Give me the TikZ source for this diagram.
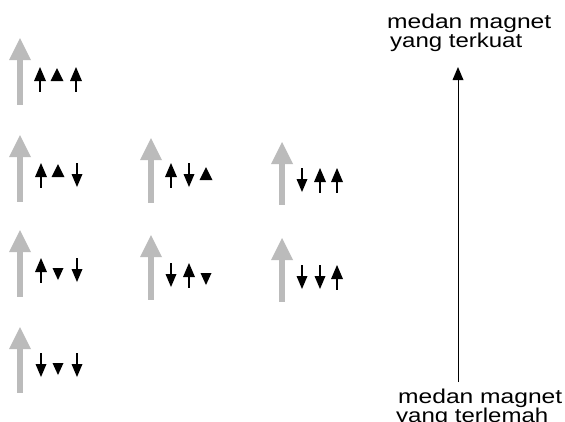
\documentclass[tikz,border=0pt]{standalone}
\usepackage{graphicx}
\usepackage{fontspec}
\setmainfont{Liberation Sans}
\definecolor{biggray}{HTML}{BBBBBB}
\tikzset{
  lbl/.style={anchor=base west, inner sep=0pt, font=\fontsize{20}{20}\selectfont},
  bigarrow/.pic={
    % origin at tip, length given by \arrowlen
    \fill[biggray] (-2.7,22) rectangle (2.7,\arrowlen);
    \fill[biggray] (0,0) -- (11,22) -- (-11,22) -- cycle;
  },
  upA/.pic={
    \fill[black] (0,0) -- (6,14) -- (-6,14) -- cycle;
    \fill[black] (-0.8,13) rectangle (0.8,25);
  },
  dnA/.pic={
    \fill[black] (-0.8,0) rectangle (0.8,12);
    \fill[black] (-5.5,11) -- (5.5,11) -- (0,24) -- cycle;
  },
  upT/.pic={
    \fill[black] (0,1) -- (6.5,14) -- (-6.5,14) -- cycle;
  },
  dnT/.pic={
    \fill[black] (-5.5,10) -- (5.5,10) -- (0,22) -- cycle;
  },
}
\newcommand{\arrowlen}{67}
\newcommand{\BigArr}[3]{% x, top, bottom
  \fill[biggray] (#1-2.7,#2+20) rectangle (#1+2.7,#3);
  \fill[biggray] (#1,#2) -- (#1+11,#2+22) -- (#1-11,#2+22) -- cycle;
}
\begin{document}
\begin{tikzpicture}[x=1pt,y=-1pt]
\useasboundingbox (0,0) rectangle (565,421);
\fill[white] (0,0) rectangle (565,421);

% big gray arrows
\BigArr{20}{38}{105}
\BigArr{20}{135}{202}
\BigArr{151}{138}{203}
\BigArr{282}{142}{205}
\BigArr{20}{230}{297}
\BigArr{151}{235}{300}
\BigArr{282}{238}{302}
\BigArr{20}{327}{393}

% row 1
\pic at (40,67) {upA}; \pic at (57,67) {upT}; \pic at (76,67) {upA};
% row 2
\pic at (41,163) {upA}; \pic at (58,163) {upT}; \pic at (77,163) {dnA};
\pic at (171,163) {upA}; \pic at (189,163) {dnA}; \pic at (206,166) {upT};
\pic at (302,168) {dnA}; \pic at (320,168) {upA}; \pic at (337,168) {upA};
% row 3
\pic at (41,258) {upA}; \pic at (58,258) {dnT}; \pic at (77,258) {dnA};
\pic at (171,263) {dnA}; \pic at (189,263) {upA}; \pic at (206,263) {dnT};
\pic at (302,265) {dnA}; \pic at (320,265) {dnA}; \pic at (337,265) {upA};
% row 4
\pic at (41,353) {dnA}; \pic at (58,353) {dnT}; \pic at (77,353) {dnA};

% labels
\node[lbl] (t1) at (387,28) {\scalebox{1.23}[1]{medan magnet}};
\node[lbl] (t2) at (390,47) {\scalebox{1.2}[1]{yang terkuat}};
\node[lbl] (b1) at (398,403) {\scalebox{1.23}[1]{medan magnet}};
\node[lbl] (b2) at (396,422) {\scalebox{1.2}[1]{yang terlemah}};

% axis
\coordinate (axtop) at (458,67);
\coordinate (axbot) at (458,382);
\draw[line width=1pt] (axbot) -- (458,78);
\fill[black] (axtop) -- (463.5,80) -- (452.5,80) -- cycle;
\end{tikzpicture}
\end{document}
